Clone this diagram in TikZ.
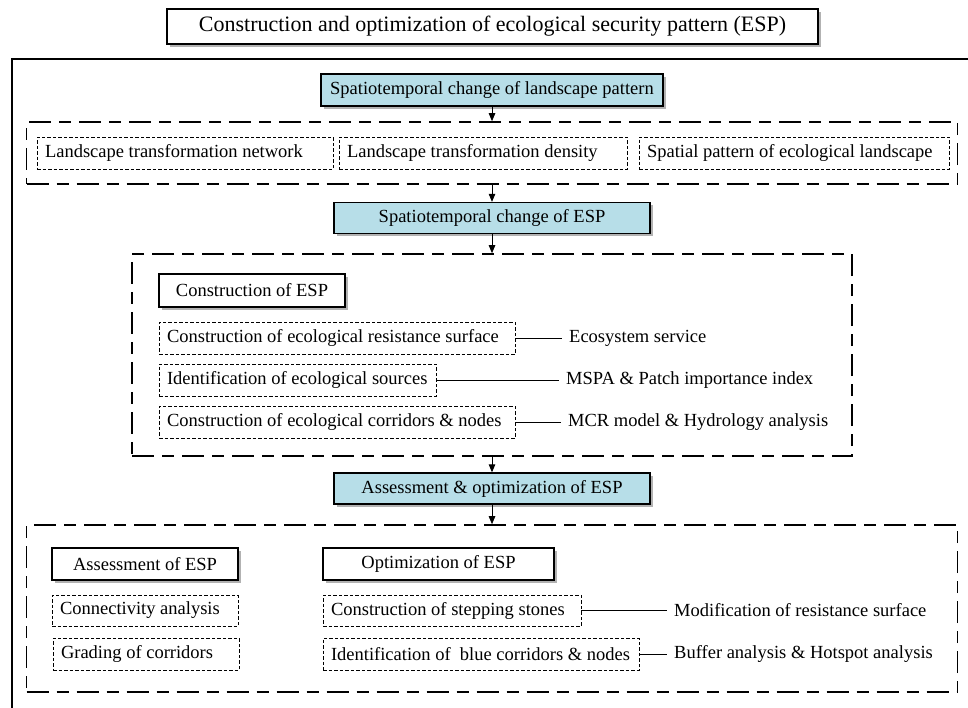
\documentclass[tikz,border=0pt]{standalone}
\usepackage{fontspec}
\setmainfont{Liberation Serif}
\usetikzlibrary{shadows,arrows.meta}
\definecolor{espblue}{RGB}{183,222,232}
\newcommand{\boxtext}[2]{\makebox[#1pt][l]{#2}}
\begin{document}
\begin{tikzpicture}[x=1pt,y=-1pt,
    every node/.style={font=\fontsize{18.5}{22}\selectfont, inner sep=0pt},
    shadowed/.style={drop shadow={shadow xshift=2.5pt, shadow yshift=-2.5pt, opacity=0.3, fill=black}},
    solidbox/.style={draw, line width=1.3pt, fill=white, shadowed},
    bluebox/.style={draw, line width=1.3pt, fill=espblue, shadowed},
    dotbox/.style={draw, line width=0.9pt, dash pattern=on 3.5pt off 2pt, inner xsep=8pt},
    groupbox/.style={draw, line width=1.6pt, dash pattern=on 22pt off 8pt on 12pt off 8pt},
    labeltext/.style={anchor=west, inner xsep=7pt},
    flow/.style={line width=0.9pt, -{Triangle[length=8pt,width=6.5pt]}}]
  \useasboundingbox (0,0) rectangle (968,707);
  \clip (0,0) rectangle (968,707);
  % Title and frame
  \node [solidbox, minimum width=651, minimum height=35, font=\fontsize{22}{26}\selectfont] (title) at (492.5,26.5)
    {Construction and optimization of ecological security pattern (ESP)};
  \draw [line width=1.3pt] (990,59) -- (12,59) -- (12,730);
  % Landscape pattern
  \node [bluebox, minimum width=342, minimum height=32] (change) at (492,90)
    {Spatiotemporal change of landscape pattern};
  \node [groupbox, minimum width=931, minimum height=62] (landscape) at (492,153) {};
  \node [dotbox, minimum height=32] (network) at (185,153)
    {\boxtext{280}{Landscape transformation network}};
  \node [dotbox, minimum height=32] (density) at (483,153)
    {\boxtext{272}{Landscape transformation density}};
  \node [dotbox, minimum height=32] (spatial) at (794,153)
    {\boxtext{294}{Spatial pattern of ecological landscape}};
  \draw [flow] (change) -- (landscape);
  % Change of ESP
  \node [bluebox, minimum width=316, minimum height=31] (espchange) at (492,218)
    {Spatiotemporal change of ESP};
  \draw [flow] (landscape) -- (espchange);
  \node [groupbox, minimum width=720, minimum height=202] (construct) at (492,355) {};
  \draw [flow] (espchange) -- (construct);
  \node [solidbox, minimum width=186, minimum height=33] (conhead) at (252,290.5)
    {Construction of ESP};
  \node [dotbox, minimum height=32] (resist) at (337,338)
    {\boxtext{340}{Construction of ecological resistance surface}};
  \node [dotbox, minimum height=32] (sources) at (297.5,380)
    {\boxtext{261}{Identification of ecological sources}};
  \node [dotbox, minimum height=32] (corridors) at (337,422)
    {\boxtext{340}{Construction of ecological corridors \& nodes}};
  \node [labeltext] (ecosys) at (562,338) {Ecosystem service};
  \node [labeltext] (mspa) at (559,380) {MSPA \& Patch importance index};
  \node [labeltext] (mcr) at (561,422) {MCR model \& Hydrology analysis};
  \draw [line width=0.9pt] (resist) -- (ecosys);
  \draw [line width=0.9pt] (sources) -- (mspa);
  \draw [line width=0.9pt] (corridors) -- (mcr);
  % Assessment and optimization
  \node [bluebox, minimum width=316, minimum height=31] (assessopt) at (492,488.5)
    {Assessment \& optimization of ESP};
  \draw [flow] (construct) -- (assessopt);
  \node [groupbox, minimum width=931, minimum height=167] (optimize) at (492,608.5) {};
  \draw [flow] (assessopt) -- (optimize);
  \node [solidbox, minimum width=186, minimum height=32] (asshead) at (145,564)
    {Assessment of ESP};
  \node [solidbox, minimum width=231, minimum height=32] (opthead) at (438.5,564)
    {Optimization of ESP};
  \node [dotbox, minimum height=31] (connect) at (145,610.5)
    {\boxtext{170}{Connectivity analysis}};
  \node [dotbox, minimum height=32] (grading) at (146,654)
    {\boxtext{170}{Grading of corridors}};
  \node [dotbox, minimum height=31] (stones) at (452,610.5)
    {\boxtext{242}{Construction of stepping stones}};
  \node [dotbox, minimum height=32] (blue) at (481,654)
    {\boxtext{300}{Identification of\ \ blue corridors \& nodes}};
  \node [labeltext] (modify) at (667,610.5) {Modification of resistance surface};
  \node [labeltext] (buffer) at (667,654) {Buffer analysis \& Hotspot analysis};
  \draw [line width=0.9pt] (stones) -- (modify);
  \draw [line width=0.9pt] (blue) -- (buffer);
\end{tikzpicture}
\end{document}
